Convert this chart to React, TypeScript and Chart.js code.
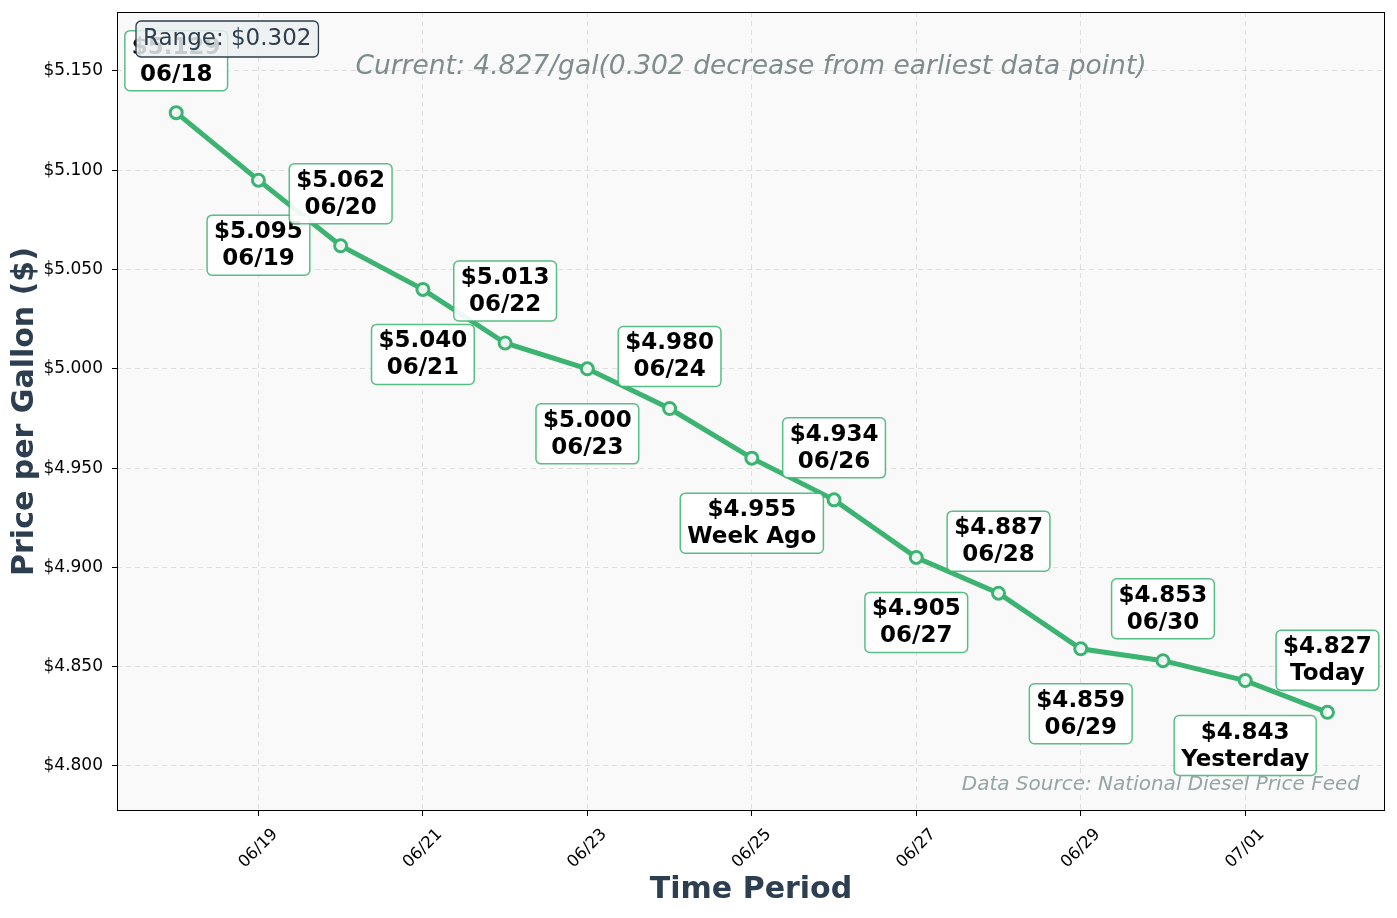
import React, { useEffect, useRef } from "react";
import { Chart, registerables } from "chart.js";

Chart.register(...registerables);

const pointLabels = ["06/18", "06/19", "06/20", "06/21", "06/22", "06/23", "06/24", "Week Ago", "06/26", "06/27", "06/28", "06/29", "06/30", "Yesterday", "Today"];
const prices = [5.129, 5.095, 5.062, 5.04, 5.013, 5.0, 4.98, 4.955, 4.934, 4.905, 4.887, 4.859, 4.853, 4.843, 4.827];
const xTickIndices = [1, 3, 5, 7, 9, 11, 13];
const xTickLabels = ["06/19", "06/21", "06/23", "06/25", "06/27", "06/29", "07/01"];
const yTicks = [4.8, 4.85, 4.9, 4.95, 5.0, 5.05, 5.1, 5.15];
const headline = "Current: 4.827/gal(0.302 decrease from earliest data point)";
const rangeText = "Range: $0.302";
const sourceText = "Data Source: National Diesel Price Feed";

const GREEN = "#3cb371";
const DARK = "#2c3e50";
const FONT = "'DejaVu Sans', sans-serif";

const decorPlugin = {
  id: "decor",
  beforeDraw(chart: any) {
    const { ctx, chartArea: a } = chart;
    ctx.save();
    ctx.fillStyle = "#ffffff";
    ctx.fillRect(0, 0, chart.width, chart.height);
    ctx.fillStyle = "#f9f9f9";
    ctx.fillRect(a.left, a.top, a.right - a.left, a.bottom - a.top);
    ctx.restore();
  },
  afterDatasetsDraw(chart: any) {
    const { ctx } = chart;
    const xs = chart.scales.x;
    const ys = chart.scales.y;
    ctx.save();
    ctx.font = `bold 23px ${FONT}`;
    ctx.textAlign = "center";
    ctx.textBaseline = "middle";
    prices.forEach((v, i) => {
      const px = xs.getPixelForValue(i);
      const py = ys.getPixelForValue(v);
      const above = i % 2 === 0;
      const cy = above ? py - 52 : py + 65;
      const l1 = "$" + v.toFixed(3);
      const l2 = pointLabels[i];
      const w = Math.max(ctx.measureText(l1).width, ctx.measureText(l2).width) + 14;
      const h = 60;
      ctx.beginPath();
      ctx.roundRect(px - w / 2, cy - h / 2, w, h, 5);
      ctx.fillStyle = "rgba(255,255,255,0.9)";
      ctx.fill();
      ctx.lineWidth = 1.5;
      ctx.strokeStyle = "rgba(60,179,113,0.85)";
      ctx.stroke();
      ctx.fillStyle = "#000000";
      ctx.fillText(l1, px, cy - 13);
      ctx.fillText(l2, px, cy + 14);
    });
    ctx.restore();
  },
  afterDraw(chart: any) {
    const { ctx, chartArea: a } = chart;
    const xs = chart.scales.x;
    ctx.save();
    // frame
    ctx.strokeStyle = "#000000";
    ctx.lineWidth = 1;
    ctx.strokeRect(a.left + 0.5, a.top + 0.5, a.right - a.left - 1, a.bottom - a.top - 1);
    // x tick labels (rotated, centred under tick)
    ctx.font = `16.5px ${FONT}`;
    ctx.fillStyle = "#000";
    ctx.textAlign = "center";
    ctx.textBaseline = "middle";
    xTickIndices.forEach((v, k) => {
      const px = xs.getPixelForValue(v);
      ctx.save();
      ctx.translate(px, a.bottom + 37.5);
      ctx.rotate(-Math.PI / 4);
      ctx.fillText(xTickLabels[k], 0, 0);
      ctx.restore();
    });
    // headline
    ctx.font = `italic 26.5px ${FONT}`;
    ctx.fillStyle = "#7f8c8d";
    ctx.textAlign = "center";
    ctx.textBaseline = "alphabetic";
    ctx.fillText(headline, (a.left + a.right) / 2, 74);
    // source
    ctx.font = `italic 20px ${FONT}`;
    ctx.fillStyle = "#95a5a6";
    ctx.textAlign = "right";
    ctx.textBaseline = "middle";
    ctx.fillText(sourceText, a.right - 25, 785);
    // range box
    ctx.font = `23px ${FONT}`;
    const rw = ctx.measureText(rangeText).width + 14;
    ctx.beginPath();
    ctx.roundRect(136, 21, rw, 36, 5);
    ctx.fillStyle = "rgba(236,240,241,0.85)";
    ctx.fill();
    ctx.strokeStyle = DARK;
    ctx.lineWidth = 1.3;
    ctx.stroke();
    ctx.fillStyle = DARK;
    ctx.textAlign = "left";
    ctx.fillText(rangeText, 143, 39);
    // axis titles
    ctx.font = `bold 30px ${FONT}`;
    ctx.fillStyle = DARK;
    ctx.textAlign = "center";
    ctx.fillText("Time Period", (a.left + a.right) / 2, 890);
    ctx.translate(25, (a.top + a.bottom) / 2);
    ctx.rotate(-Math.PI / 2);
    ctx.fillText("Price per Gallon ($)", 0, 0);
    ctx.restore();
  },
};

export default function App() {
  const ref = useRef<HTMLCanvasElement>(null);
  useEffect(() => {
    if (!ref.current) return;
    const chart = new Chart(ref.current, {
      type: "line",
      data: {
        labels: pointLabels,
        datasets: [
          {
            data: prices.map((v, i) => ({ x: i, y: v })),
            borderColor: GREEN,
            borderWidth: 5,
            pointRadius: 6,
            pointBorderWidth: 3,
            pointBorderColor: GREEN,
            pointBackgroundColor: "rgba(255,255,255,0.88)",
            tension: 0,
          },
        ],
      },
      options: {
        responsive: false,
        animation: false,
        layout: { padding: { left: 0, right: 12, top: 12, bottom: 0 } },
        plugins: { legend: { display: false }, tooltip: { enabled: false } },
        scales: {
          x: {
            type: "linear",
            min: -0.72,
            max: 14.7,
            afterBuildTicks: (s: any) => {
              s.ticks = xTickIndices.map((v) => ({ value: v }));
            },
            afterFit: (s: any) => {
              s.height = 107;
              s.paddingLeft = 0;
              s.paddingRight = 0;
            },
            ticks: { display: false },
            grid: {
              color: "rgba(0,0,0,0.1)",
              lineWidth: 1,
              tickColor: "#000",
              tickLength: 5,
              tickWidth: 1,
            },
            border: { display: false, dash: [5, 4] },
          },
          y: {
            min: 4.7773,
            max: 5.1797,
            afterBuildTicks: (s: any) => {
              s.ticks = yTicks.map((v) => ({ value: v }));
            },
            afterFit: (s: any) => {
              s.width = 117;
              s.paddingTop = 0;
              s.paddingBottom = 0;
            },
            ticks: {
              padding: 9,
              color: "#000",
              font: { family: FONT, size: 17 },
              callback: (v: any) => "$" + Number(v).toFixed(3),
            },
            grid: {
              color: "rgba(0,0,0,0.1)",
              lineWidth: 1,
              tickColor: "#000",
              tickLength: 5,
              tickWidth: 1,
            },
            border: { display: false, dash: [5, 4] },
          },
        },
      },
      plugins: [decorPlugin],
    });
    return () => chart.destroy();
  }, []);
  return (
    <div style={{ position: "absolute", left: 0, top: 0, width: 1397, height: 918 }}>
      <canvas ref={ref} width={1397} height={918} />
    </div>
  );
}
